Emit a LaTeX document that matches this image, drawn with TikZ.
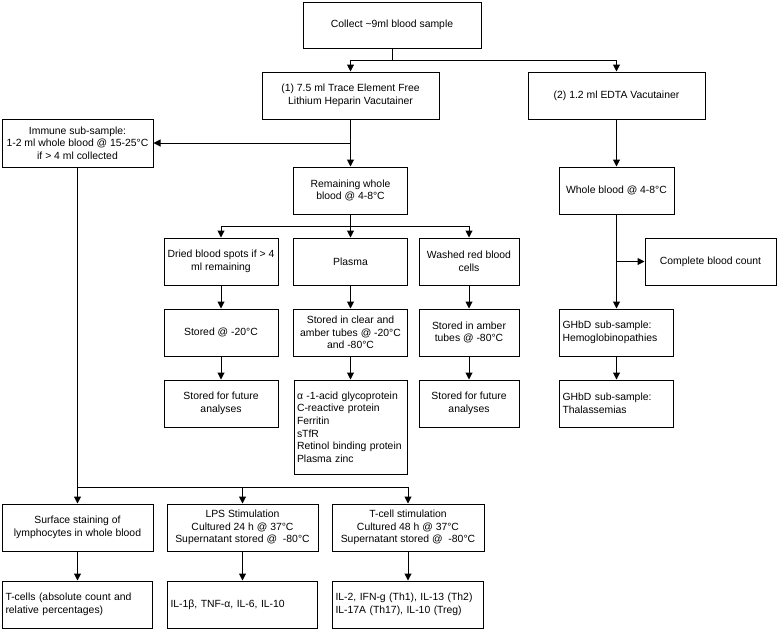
\documentclass[tikz,border=0pt]{standalone}
\usepackage{fontspec}
\setmainfont{Liberation Sans}
\usepackage{tikz}
\usetikzlibrary{arrows.meta}

\begin{document}
\begin{tikzpicture}[x=1pt, y=-1pt,
    box/.style={draw, line width=1pt, minimum height=47pt, inner sep=3pt, align=center,
        font=\fontsize{10.4}{12.6}\selectfont},
    lbox/.style={box, align=left},
    link/.style={line width=1pt},
    arr/.style={link, -{Triangle[length=7pt,width=7pt]}}]
    \useasboundingbox (0,0) rectangle (778,630);

    % Collection and the two tubes
    \node[box, minimum width=178pt, minimum height=46pt] (collect) at (392,25) {Collect \textasciitilde9ml blood sample};
    \node[box, minimum width=177pt] (trace) at (350.5,95.5) {(1) 7.5 ml Trace Element Free\\Lithium Heparin Vacutainer};
    \node[box, minimum width=177pt] (edta) at (616.5,95.5) {(2) 1.2 ml EDTA Vacutainer};
    \coordinate (split1) at (392,60);
    \draw[link] (collect.south) -- (split1);
    \draw[arr] (split1) -| (trace.north);
    \draw[arr] (split1) -| (edta.north);

    % Tube 1 (lithium heparin)
    \node[box, minimum width=151pt, minimum height=48pt] (immune) at (77.5,143) {Immune sub-sample:\\1-2 ml whole blood @ 15-25°C\\if > 4 ml collected};
    \node[box, minimum width=114pt] (remain) at (350.5,190.5) {Remaining whole\\blood @ 4-8°C};
    \draw[arr] (trace.south) -- (remain.north);
    \draw[arr] (trace.south |- immune.east) -- (immune.east);

    \node[box, minimum width=114pt] (dried) at (221,261.5) {Dried blood spots if > 4\\ml remaining};
    \node[box, minimum width=114pt] (plasma) at (350.5,261.5) {Plasma};
    \node[box, minimum width=100pt] (washed) at (469,261.5) {Washed red blood\\cells};
    \coordinate (split2) at (350.5,226);
    \draw[link] (remain.south) -- (split2);
    \draw[arr] (split2) -| (dried.north);
    \draw[arr] (split2) -- (plasma.north);
    \draw[arr] (split2) -| (washed.north);

    \node[box, minimum width=114pt] (stored20) at (221,332.5) {Stored @ -20°C};
    \node[box, minimum width=114pt] (storedpl) at (350.5,332.5) {Stored in clear and\\amber tubes @ -20°C\\and -80°C};
    \node[box, minimum width=100pt] (storedam) at (469,332.5) {Stored in amber\\tubes @ -80°C};
    \draw[arr] (dried) -- (stored20);
    \draw[arr] (plasma) -- (storedpl);
    \draw[arr] (washed) -- (storedam);

    \node[box, minimum width=114pt] (future1) at (221,403.5) {Stored for future\\analyses};
    \node[lbox, text width=107pt, minimum height=94pt] (plist) at (350.5,427) {α -1-acid glycoprotein\\C-reactive protein\\Ferritin\\sTfR\\Retinol binding protein\\Plasma zinc};
    \node[box, minimum width=100pt] (future2) at (469,403.5) {Stored for future\\analyses};
    \draw[arr] (stored20) -- (future1);
    \draw[arr] (storedpl) -- (plist);
    \draw[arr] (storedam) -- (future2);

    % Tube 2 (EDTA)
    \node[box, minimum width=115pt] (wbedta) at (616.5,190.5) {Whole blood @ 4-8°C};
    \node[box, minimum width=131pt] (cbc) at (710.5,261.5) {Complete blood count};
    \node[lbox, text width=108pt] (hemo) at (616.5,332.5) {GHbD sub-sample:\\Hemoglobinopathies};
    \node[lbox, text width=108pt] (thal) at (616.5,403.5) {GHbD sub-sample:\\Thalassemias};
    \draw[arr] (edta) -- (wbedta);
    \draw[arr] (wbedta) -- (hemo);
    \draw[arr] (wbedta.south |- cbc.west) -- (cbc.west);
    \draw[arr] (hemo) -- (thal);

    % Immune sub-sample
    \node[box, minimum width=151pt] (surface) at (77.5,527.5) {Surface staining of\\lymphocytes in whole blood};
    \node[box, minimum width=151pt] (lps) at (242.5,527.5) {LPS Stimulation\\Cultured 24 h @ 37°C\\Supernatant stored @\ \ -80°C};
    \node[box, minimum width=152pt] (tstim) at (408,527.5) {T-cell stimulation\\Cultured 48 h @ 37°C\\Supernatant stored @\ \ -80°C};
    \coordinate (split3) at (77.5,487);
    \draw[link] (immune.south) -- (split3);
    \draw[arr] (split3) -- (surface.north);
    \draw[arr] (split3) -| (lps.north);
    \draw[arr] (split3) -| (tstim.north);

    \node[lbox, text width=144pt] (tcells) at (77.5,604.5) {T-cells (absolute count and\\relative percentages)};
    \node[lbox, text width=144pt] (il1) at (242.5,604.5) {IL-1β, TNF-α, IL-6, IL-10};
    \node[lbox, text width=145pt] (il2) at (408,604.5) {IL-2, IFN-g (Th1), IL-13 (Th2)\\IL-17A (Th17), IL-10 (Treg)};
    \draw[arr] (surface) -- (tcells);
    \draw[arr] (lps) -- (il1);
    \draw[arr] (tstim) -- (il2);
\end{tikzpicture}
\end{document}
